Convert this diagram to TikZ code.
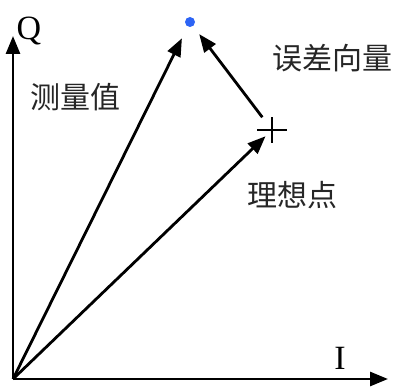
\documentclass[tikz,border=0pt]{standalone}
\usepackage{fontspec}
\setmainfont{Liberation Serif}
\newfontfamily\cjk{Noto Sans CJK SC}
\usetikzlibrary{arrows.meta,positioning,calc}
\definecolor{dotblue}{RGB}{45, 100, 245}

\tikzset{
    vec/.style={-{Triangle[length=18pt,width=14pt]}, line width=2.8pt, black},
    axislabel/.style={font=\fontsize{34}{38}\selectfont, inner sep=0pt},
    cjklabel/.style={font=\cjk\fontsize{30}{34}\selectfont, inner sep=0pt, text=black!85}
}

\begin{document}
\begin{tikzpicture}[x=1pt, y=-1pt]
    \useasboundingbox (0,0) rectangle (398,387);

    % axes
    \coordinate (o) at (13, 379);
    \coordinate (qtip) at (13, 36);
    \coordinate (itip) at (388, 379);
    \draw[vec] (o) -- (qtip);
    \draw[vec] (o) -- (itip);
    \node[axislabel] (qlab) at (29, 31) {Q};
    \node[axislabel] (ilab) at (340, 358) {I};

    % measured point and ideal point
    \node[circle, fill=dotblue, inner sep=0pt, minimum size=10pt] (meas) at (190, 22) {};
    \coordinate (ideal) at (272, 130);
    \draw[line width=2.6pt] ([xshift=-15pt]ideal) -- ([xshift=15pt]ideal);
    \draw[line width=2.6pt] ([yshift=-13pt]ideal) -- ([yshift=13pt]ideal);

    % vectors
    \draw[vec, shorten >=13pt] (o) -- (meas);
    \draw[vec, shorten >=9pt] (o) -- (ideal);
    \draw[vec, shorten <=16pt, shorten >=10pt] (ideal) -- (meas);

    % labels
    \node[cjklabel] (measlab) at (75, 97) {测量值};
    \node[cjklabel] (errlab) at (332, 58) {误差向量};
    \node[cjklabel] (ideallab) at (292, 195) {理想点};
\end{tikzpicture}
\end{document}
